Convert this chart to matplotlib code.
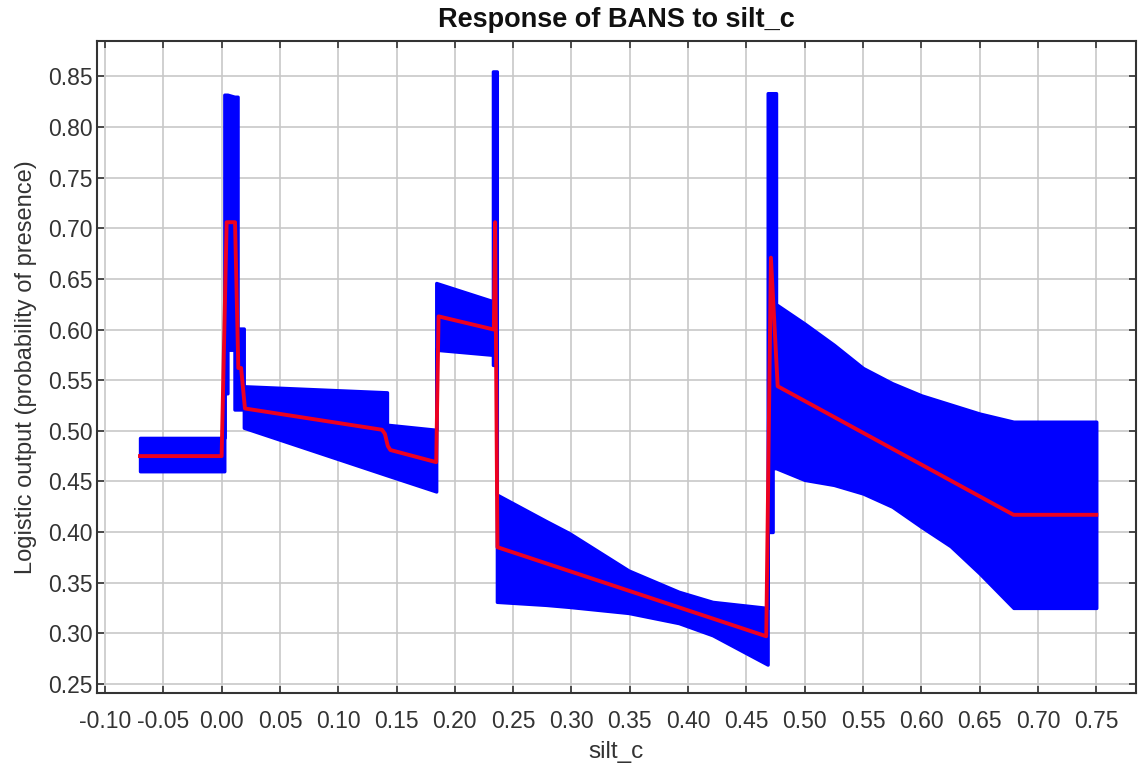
import matplotlib
matplotlib.use("Agg")
import matplotlib.pyplot as plt

plt.rcParams['font.family'] = ['Liberation Sans', 'DejaVu Sans']

# Mean response (red curve)
mean_x = [-0.070, 0.000, 0.0043, 0.0115, 0.0143, 0.0167, 0.0200, 0.1375, 0.1400,
          0.1425, 0.1447, 0.1840, 0.1860, 0.2334, 0.2345, 0.2365, 0.4670, 0.4710,
          0.4768, 0.679, 0.750]
mean_y = [0.475, 0.475, 0.706, 0.706, 0.562, 0.562, 0.522, 0.501, 0.497,
          0.485, 0.481, 0.469, 0.613, 0.600, 0.706, 0.385, 0.297, 0.671,
          0.544, 0.417, 0.417]

# Mean +/- one standard deviation (blue band)
band_x = [-0.070, 0.0023, 0.0023, 0.0050, 0.0050, 0.0110, 0.0110, 0.0137, 0.0137,
          0.0190, 0.0190, 0.1418, 0.1418, 0.1840, 0.1840, 0.2326, 0.2326, 0.2360,
          0.2360, 0.278, 0.298, 0.349, 0.392, 0.421, 0.4682, 0.4682, 0.4725,
          0.4725, 0.4754, 0.4754, 0.4998, 0.525, 0.55, 0.575, 0.60, 0.625, 0.65,
          0.679, 0.750]
band_lo = [0.460, 0.460, 0.537, 0.537, 0.580, 0.580, 0.521, 0.521, 0.521,
           0.521, 0.503, 0.456, 0.456, 0.440, 0.580, 0.575, 0.565, 0.565,
           0.331, 0.328, 0.326, 0.320, 0.310, 0.298, 0.269, 0.400, 0.400,
           0.463, 0.463, 0.463, 0.4515, 0.4465, 0.438, 0.425, 0.405, 0.386, 0.359,
           0.325, 0.325]
band_hi = [0.493, 0.493, 0.832, 0.832, 0.832, 0.830, 0.830, 0.830, 0.601,
           0.601, 0.544, 0.538, 0.506, 0.501, 0.646, 0.628, 0.855, 0.855,
           0.437, 0.411, 0.399, 0.362, 0.341, 0.331, 0.325, 0.8335, 0.8335,
           0.8335, 0.8335, 0.625, 0.606, 0.585, 0.562, 0.547, 0.535, 0.526, 0.517,
           0.509, 0.509]

x_ticks = [-0.10, -0.05, 0.00, 0.05, 0.10, 0.15, 0.20, 0.25, 0.30, 0.35, 0.40,
           0.45, 0.50, 0.55, 0.60, 0.65, 0.70, 0.75]
y_ticks = [0.25, 0.30, 0.35, 0.40, 0.45, 0.50, 0.55, 0.60, 0.65, 0.70, 0.75,
           0.80, 0.85]

fig = plt.figure(figsize=(11.38, 7.71), dpi=100)
ax = fig.add_axes([0.0852, 0.1012, 0.9130, 0.8456])

ax.fill_between(band_x, band_lo, band_hi, color='#0000ff', edgecolor='#0000ff',
                linewidth=2.4, joinstyle='round', zorder=2)
ax.plot(mean_x, mean_y, color='#ee0020', linewidth=2.8, solid_joinstyle='round',
        zorder=3)

ax.set_xlim(-0.1069, 0.784)
ax.set_ylim(0.241, 0.885)
ax.set_xticks(x_ticks)
ax.set_yticks(y_ticks)
ax.set_xticklabels([f"{v:.2f}" for v in x_ticks])
ax.set_yticklabels([f"{v:.2f}" for v in y_ticks])

ax.grid(True, color='#c8c8c8', linewidth=1.2, zorder=0)
ax.set_axisbelow(True)
ax.tick_params(direction='in', length=5, width=1.2, color='#333333',
               top=True, right=True, labelsize=16.5, labelcolor='#333333')
ax.tick_params(axis='x', pad=12)
ax.tick_params(axis='y', pad=3)
for s in ax.spines.values():
    s.set_color('#333333')
    s.set_linewidth(1.5)

ax.set_title("Response of BANS to silt_c", fontsize=19.5, fontweight='bold',
             pad=10, color='#111111')
ax.set_xlabel("silt_c", fontsize=17.5, labelpad=6, color='#333333')
ax.set_ylabel("Logistic output (probability of presence)", fontsize=17,
              labelpad=8, color='#333333')

fig.savefig("out.png", dpi=100, facecolor='white')
